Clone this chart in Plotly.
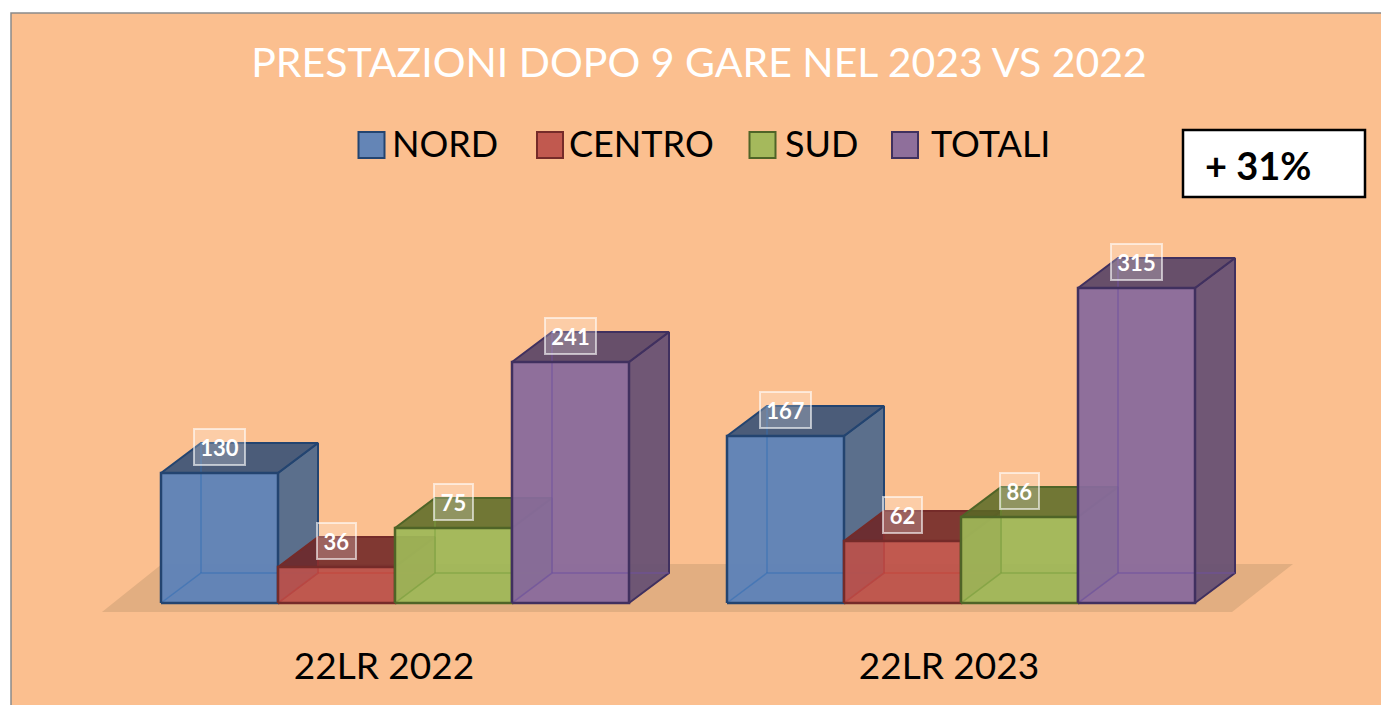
import plotly.graph_objects as go

# ---- data ----
CATEGORIES = ["22LR 2022", "22LR 2023"]
SERIES_NAMES = ["NORD", "CENTRO", "SUD", "TOTALI"]
NORD = [130, 167]
CENTRO = [36, 62]
SUD = [75, 86]
TOTALI = [241, 315]
SERIES_VALUES = [NORD, CENTRO, SUD, TOTALI]
TITLE = "PRESTAZIONI DOPO 9 GARE NEL 2023 VS 2022"
CALLOUT = "+ 31%"

# ---- styles ----
FRONT = ["rgba(92,130,184,0.95)", "rgba(188,80,74,0.92)", "rgba(158,184,88,0.93)", "rgba(136,106,156,0.94)"]
SIDE = ["rgba(68,100,140,0.88)", "rgba(130,52,50,0.88)", "rgba(108,130,56,0.88)", "rgba(100,78,115,0.92)"]
TOP = ["rgba(50,78,118,0.88)", "rgba(110,38,38,0.88)", "rgba(88,106,38,0.85)", "rgba(86,66,102,0.9)"]
EDGE = ["#234470", "#752b29", "#4f6427", "#40305f"]
INNER = ["rgba(50,110,180,0.55)", "rgba(200,60,50,0.45)", "rgba(120,160,60,0.6)", "rgba(110,80,160,0.65)"]
FONT = "Lato"

W, H, BOTTOM = 1381, 705, 64
X0, BAR_W, BASE = 161, 117, 603      # pixel anchor of the axes
GROUP_START = [0, 566 / BAR_W]        # in bar widths
DX, DY = 40 / BAR_W, 30               # 3-D depth offset


def data_x(px):
    return (px - X0) / BAR_W


def data_y(py):
    return BASE - py


fig = go.Figure()


def poly(xs, ys, fill, line=None, width=2):
    fig.add_trace(go.Scatter(
        x=xs + xs[:1], y=ys + ys[:1], mode="lines", fill="toself", fillcolor=fill,
        line=dict(color=line or "rgba(0,0,0,0)", width=width if line else 0),
        hoverinfo="skip", showlegend=False))


# floor
poly([data_x(102), data_x(1232), data_x(1293), data_x(162)],
     [data_y(612), data_y(612), data_y(564), data_y(564)],
     "rgba(190,150,110,0.42)")

# cuboids
for g, start in enumerate(GROUP_START):
    for s, values in enumerate(SERIES_VALUES):
        v = values[g]
        l = start + s
        r = l + 1
        # back-facing surfaces
        poly([r, r + DX, r + DX, r], [0, DY, v + DY, v], SIDE[s], EDGE[s])
        poly([l, r, r + DX, l + DX], [v, v, v + DY, v + DY], TOP[s], EDGE[s])
        poly([l, r, r, l], [0, 0, v, v], FRONT[s])
        # hidden edges seen through the front
        fig.add_trace(go.Scatter(
            x=[l, l + DX, r + DX, None, l + DX, l + DX],
            y=[0, DY, DY, None, DY, v + DY],
            mode="lines", line=dict(color=INNER[s], width=1.5),
            hoverinfo="skip", showlegend=False))
        # visible outline of the front
        fig.add_trace(go.Scatter(
            x=[l, r, r, l, l], y=[0, 0, v, v, 0], mode="lines",
            line=dict(color=EDGE[s], width=2.5), name=SERIES_NAMES[s],
            text=[f"{CATEGORIES[g]}: {v}"] * 5, hoverinfo="text", showlegend=False))

# legend row (large swatches, real text)
LEGEND_PX = [371.5, 550, 762.5, 905]
LEGEND_TEXT_PX = [392, 569, 785, 931]
for s, name in enumerate(SERIES_NAMES):
    fig.add_trace(go.Scatter(
        x=[data_x(LEGEND_PX[s])], y=[data_y(145)], mode="markers",
        marker=dict(symbol="square", size=26, color=FRONT[s], line=dict(color=EDGE[s], width=2)),
        hoverinfo="skip", showlegend=False, cliponaxis=False))
    fig.add_trace(go.Scatter(
        x=[data_x(LEGEND_TEXT_PX[s])], y=[data_y(148)], mode="text",
        text=[name], textposition="middle right",
        textfont=dict(family=FONT, size=36, color="#000000"),
        hoverinfo="skip", showlegend=False, cliponaxis=False))

annotations = []
# data labels
for g, start in enumerate(GROUP_START):
    for s, values in enumerate(SERIES_VALUES):
        v = values[g]
        annotations.append(dict(
            x=start + s + 0.5, y=v + 26, xref="x", yref="y", text=f"<b>{v}</b>",
            showarrow=False, font=dict(family=FONT, size=22, color="#ffffff"),
            bgcolor="rgba(255,255,255,0.22)", bordercolor="rgba(255,255,255,0.6)", borderwidth=2,
            width=43 if v >= 100 else 31, height=28, borderpad=3, valign="middle"))

# callout text
annotations.append(dict(
    x=data_x(1203), y=data_y(165), xref="x", yref="y", xanchor="left", text=f"<b>{CALLOUT}</b>",
    showarrow=False, font=dict(family=FONT, size=38, color="#000000")))

shapes = [
    # slide panel
    dict(type="rect", xref="paper", yref="paper", layer="below",
         x0=11 / W, x1=1.02, y0=-0.2, y1=1 - 13 / (H - BOTTOM),
         fillcolor="#fbbf8f", line=dict(color="#8a8a8a", width=1.5)),
    # callout box
    dict(type="rect", xref="x", yref="y", x0=data_x(1183), x1=data_x(1365),
         y0=data_y(197), y1=data_y(130), fillcolor="#ffffff", line=dict(color="#000000", width=2.5),
         layer="below"),
]

TICK_PX = [384, 949]
fig.update_layout(
    width=W, height=H, autosize=False,
    margin=dict(l=0, r=0, t=0, b=BOTTOM, pad=0),
    paper_bgcolor="#ffffff", plot_bgcolor="rgba(0,0,0,0)",
    showlegend=False,
    title=dict(text=TITLE, x=699 / W, xanchor="center", y=1 - 63 / H, yanchor="middle",
               font=dict(family=FONT, size=41, color="#ffffff")),
    xaxis=dict(range=[data_x(0), data_x(W)], showgrid=False, zeroline=False, showline=False,
               tickmode="array", tickvals=[data_x(p) for p in TICK_PX], ticktext=CATEGORIES,
               ticks="", tickfont=dict(family=FONT, size=37, color="#000000"), fixedrange=True,
               automargin=False),
    yaxis=dict(range=[BASE - (H - BOTTOM), BASE], showgrid=False, zeroline=False, showline=False,
               showticklabels=False, ticks="", fixedrange=True),
    annotations=annotations, shapes=shapes,
)

fig.write_html("out.html", config=dict(displayModeBar=False),
               post_script="document.documentElement.style.overflow='hidden';document.body.style.margin='0';")
